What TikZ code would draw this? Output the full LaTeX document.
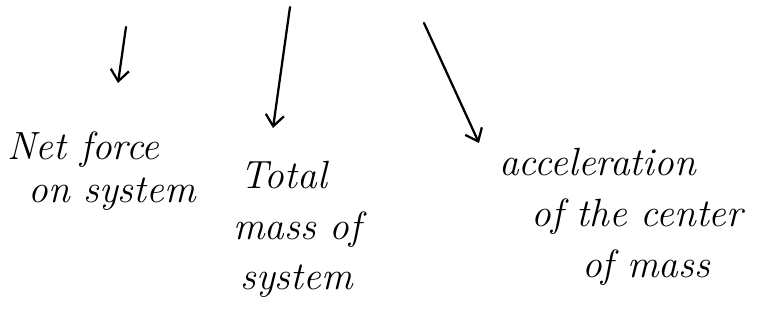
\documentclass[tikz,border=0pt]{standalone}
\usetikzlibrary{arrows.meta}
\tikzset{
  hand/.style={font=\fontsize{28}{#1}\selectfont\itshape, align=left,
    inner sep=0pt, anchor=base west},
  down/.style={-{Straight Barb[length=8pt,width=13pt]}, line width=1.6pt,
    line cap=round},
}
\begin{document}
\begin{tikzpicture}[x=0.025cm,y=-0.025cm]
  \useasboundingbox (0,0) rectangle (764,320);
  % the three terms (placed at the baseline of their last line)
  \node[hand=30.6] (net) at (7,203) {Net force\\\hspace*{15pt}on system};
  \node[hand=36] (mass) at (233,290)
    {\hspace*{5pt}Total\\mass of\\\hspace*{5pt}system};
  \node[hand=36.6] (acc) at (499,278)
    {acceleration\\\hspace*{23pt}of the center\\\hspace*{59pt}of mass};
  % arrows coming down from above
  \coordinate (s1) at (126,27);  \coordinate (t1) at (118,83);
  \coordinate (s2) at (290,7);   \coordinate (t2) at (273,128);
  \coordinate (s3) at (424,23);  \coordinate (t3) at (479,143);
  \draw[down] (s1) -- (t1);
  \draw[down] (s2) -- (t2);
  \draw[down] (s3) -- (t3);
\end{tikzpicture}
\end{document}
